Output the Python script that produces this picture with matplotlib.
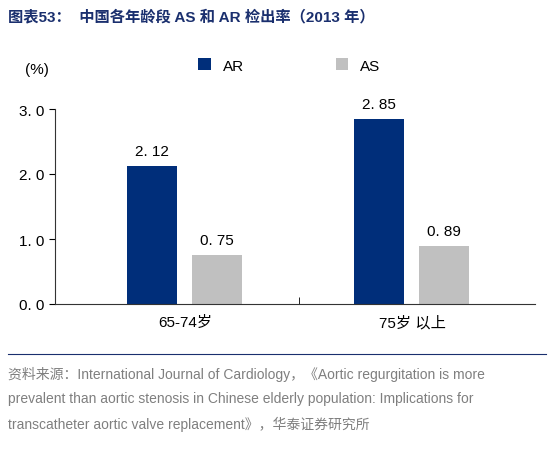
import matplotlib
matplotlib.use("Agg")
import matplotlib.pyplot as plt
import numpy as np

plt.rcParams['font.family'] = ['Liberation Sans', 'Noto Sans CJK SC']

categories = ["65-74岁", "75岁 以上"]
ar = [2.12, 2.85]
as_ = [0.75, 0.89]
yticks = [0.0, 1.0, 2.0, 3.0]

fig = plt.figure(figsize=(5.54, 4.52), dpi=100)
ax = fig.add_axes([55/554, 1-305/452, 480/554, 195/452])
x = np.arange(len(categories))
w = 0.22
b1 = ax.bar(x - 0.145, ar, w, color='#002E7A', label='AR')
b2 = ax.bar(x + 0.14, as_, w, color='#C0C0C0', label='AS')
for bars, vals in ((b1, ar), (b2, as_)):
    for r, v in zip(bars, vals):
        ax.text(r.get_x()+r.get_width()/2, v+0.12, f"{v:.2f}".replace('.', '. '),
                ha='center', va='bottom', fontsize=11)
ax.set_xlim(-0.573, 1.54)
ax.set_ylim(0, 3.0)
ax.set_yticks(yticks)
ax.set_yticklabels([f"{t:.1f}".replace('.', '. ') for t in yticks], fontsize=11)
ax.set_xticks(x)
ax.set_xticklabels(categories, fontsize=11)
ax.set_xticks([0.5], minor=True)
ax.tick_params(axis='x', which='major', length=0, pad=8)
ax.tick_params(axis='x', which='minor', length=5, direction='in')
ax.tick_params(axis='y', direction='out', length=4)
for s in ['top', 'right']:
    ax.spines[s].set_visible(False)
ax.spines['left'].set_color('#333333')
ax.spines['bottom'].set_color('#333333')
ax.legend(loc='upper left', bbox_to_anchor=(0.27, 1.33), ncol=2, frameon=False,
          fontsize=11, handlelength=0.8, handleheight=0.8, columnspacing=6)
fig.text(25/554, 1-70/452, "(%)", fontsize=11, va='center')

fig.text(8/554, 1-17/452, "图表53：  中国各年龄段 AS 和 AR 检出率（2013 年）", fontsize=11,
         fontweight='bold', color='#1A2F6E', va='center')
fig.add_artist(plt.Line2D([8/554, 546/554], [1-355/452]*2, color='#1A2F6E', lw=0.8))
src = ("资料来源：International Journal of Cardiology，《Aortic regurgitation is more\n"
       "prevalent than aortic stenosis in Chinese elderly population: Implications for\n"
       "transcatheter aortic valve replacement》，华泰证券研究所")
fig.text(8/554, 1-367/452, src, fontsize=10, color='#7F7F7F', va='top', linespacing=1.9)
fig.savefig("out.png", dpi=100)
